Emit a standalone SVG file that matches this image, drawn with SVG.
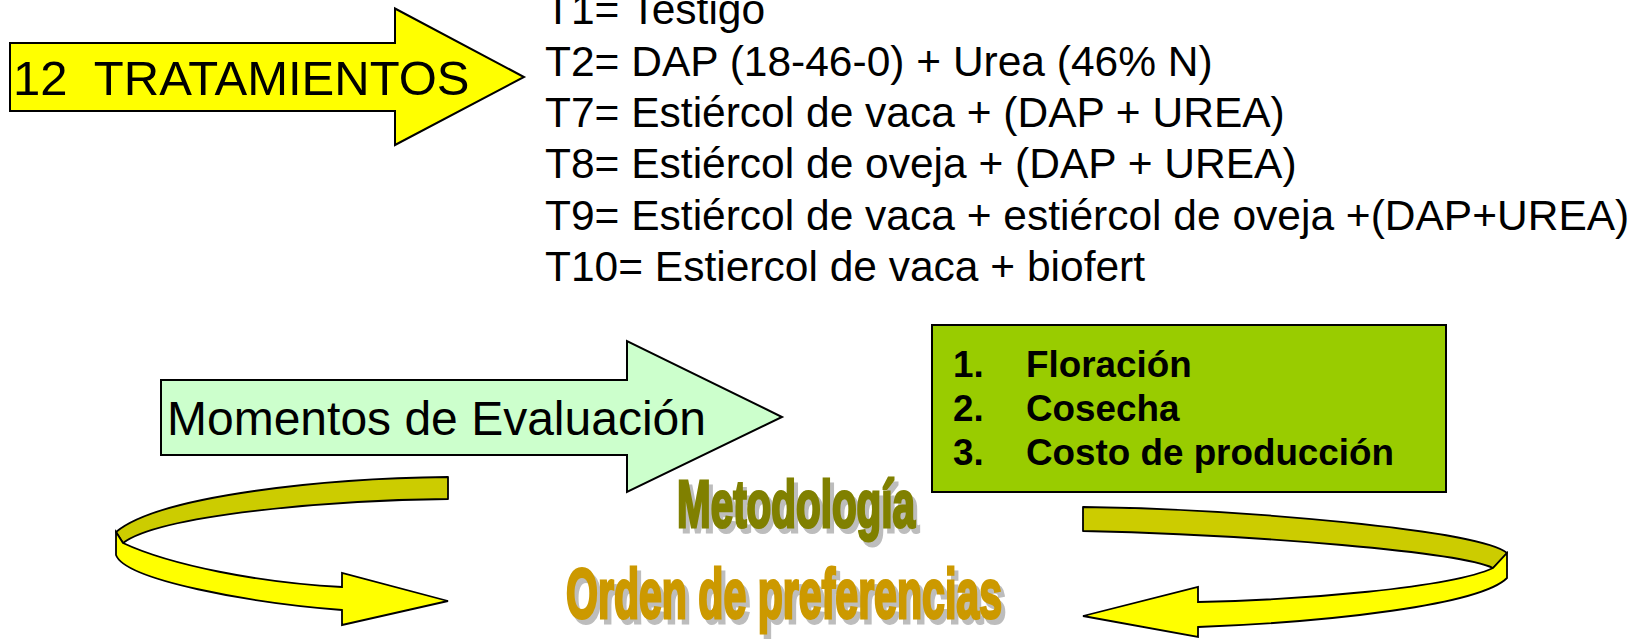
<svg xmlns="http://www.w3.org/2000/svg" width="1641" height="639" viewBox="0 0 1641 639">
<style>
.ln{stroke:#000;stroke-width:2;stroke-linejoin:miter}
.reg{font-family:"Liberation Sans",Arial,sans-serif;fill:#000}
.bold{font-family:"Liberation Sans",Arial,sans-serif;font-weight:bold;fill:#000}
.imp{font-family:"Liberation Sans",Arial,sans-serif;font-weight:bold}
.dark{fill:#CCCC00;stroke:#000;stroke-width:1.8;stroke-linejoin:round}
.bright{fill:#FFFF00;stroke:#000;stroke-width:1.8;stroke-linejoin:miter}
</style>
<rect width="1641" height="639" fill="#fff"/>

<g id="tratamientos">
<path class="ln" fill="#FFFF00" d="M10,43 L395,43 L395,8.5 L524,77 L395,145 L395,111 L10,111 Z"/>
<text class="reg" x="13" y="94.5" font-size="49">12&#160; TRATAMIENTOS</text>
</g>

<g id="lista-tratamientos" class="reg" font-size="42.5">
<text x="545" y="24">T1= Testigo</text>
<text x="545" y="75.5">T2= DAP (18-46-0) + Urea (46% N)</text>
<text x="545" y="127">T7= Estiércol de vaca + (DAP + UREA)</text>
<text x="545" y="178">T8= Estiércol de oveja + (DAP + UREA)</text>
<text x="545" y="229.5">T9= Estiércol de vaca + estiércol de oveja +(DAP+UREA)</text>
<text x="545" y="281">T10= Estiercol de vaca + biofert</text>
</g>

<g id="momentos">
<path class="ln" fill="#CCFFCC" d="M161,380 L627,380 L627,341 L782,417 L627,492 L627,455 L161,455 Z"/>
<text class="reg" x="167" y="435" font-size="48">Momentos de Evaluación</text>
</g>

<g id="evaluacion">
<rect class="ln" fill="#99CC00" x="932" y="325" width="514" height="167"/>
<g class="bold" font-size="36.8">
<text x="953" y="377">1.</text><text x="1026" y="377">Floración</text>
<text x="953" y="421">2.</text><text x="1026" y="421">Cosecha</text>
<text x="953" y="465">3.</text><text x="1026" y="465">Costo de producción</text>
</g>
</g>

<g id="metodologia" class="imp">
<text x="681" y="532" font-size="66" fill="#BDBDBD" stroke="#BDBDBD" stroke-width="3" textLength="238" lengthAdjust="spacingAndGlyphs">Metodología</text>
<text x="677" y="527" font-size="66" fill="#808000" stroke="#808000" stroke-width="3" textLength="238" lengthAdjust="spacingAndGlyphs">Metodología</text>
</g>

<g id="orden" class="imp">
<text x="570" y="623" font-size="70" fill="#BDBDBD" stroke="#BDBDBD" stroke-width="3" textLength="436" lengthAdjust="spacingAndGlyphs">Orden de preferencias</text>
<text x="566" y="618" font-size="70" fill="#CC9900" stroke="#CC9900" stroke-width="3" textLength="436" lengthAdjust="spacingAndGlyphs">Orden de preferencias</text>
</g>

<g id="connectors">
<g id="flecha-izquierda">
<path class="dark" d="M448,477 C330,478 160,495 116,532 L123,543 C160,515 330,500 448,499 Z"/>
<path class="bright" d="M116,532 L123,543 C170,565 260,583 342,587 L342,573 L448,601 L342,625 L342,610 C250,603 125,580 116,555 Z"/>
</g>
<g id="flecha-derecha">
<path class="dark" d="M1083,507 C1240,509 1480,530 1507,553 L1493,568 C1460,552 1260,535 1083,531 Z"/>
<path class="bright" d="M1507,553 L1493,568 C1450,588 1300,600 1198,602 L1198,587 L1083,616 L1198,637 L1198,627 C1330,622 1480,605 1507,578 Z"/>
</g>
</g>
</svg>
